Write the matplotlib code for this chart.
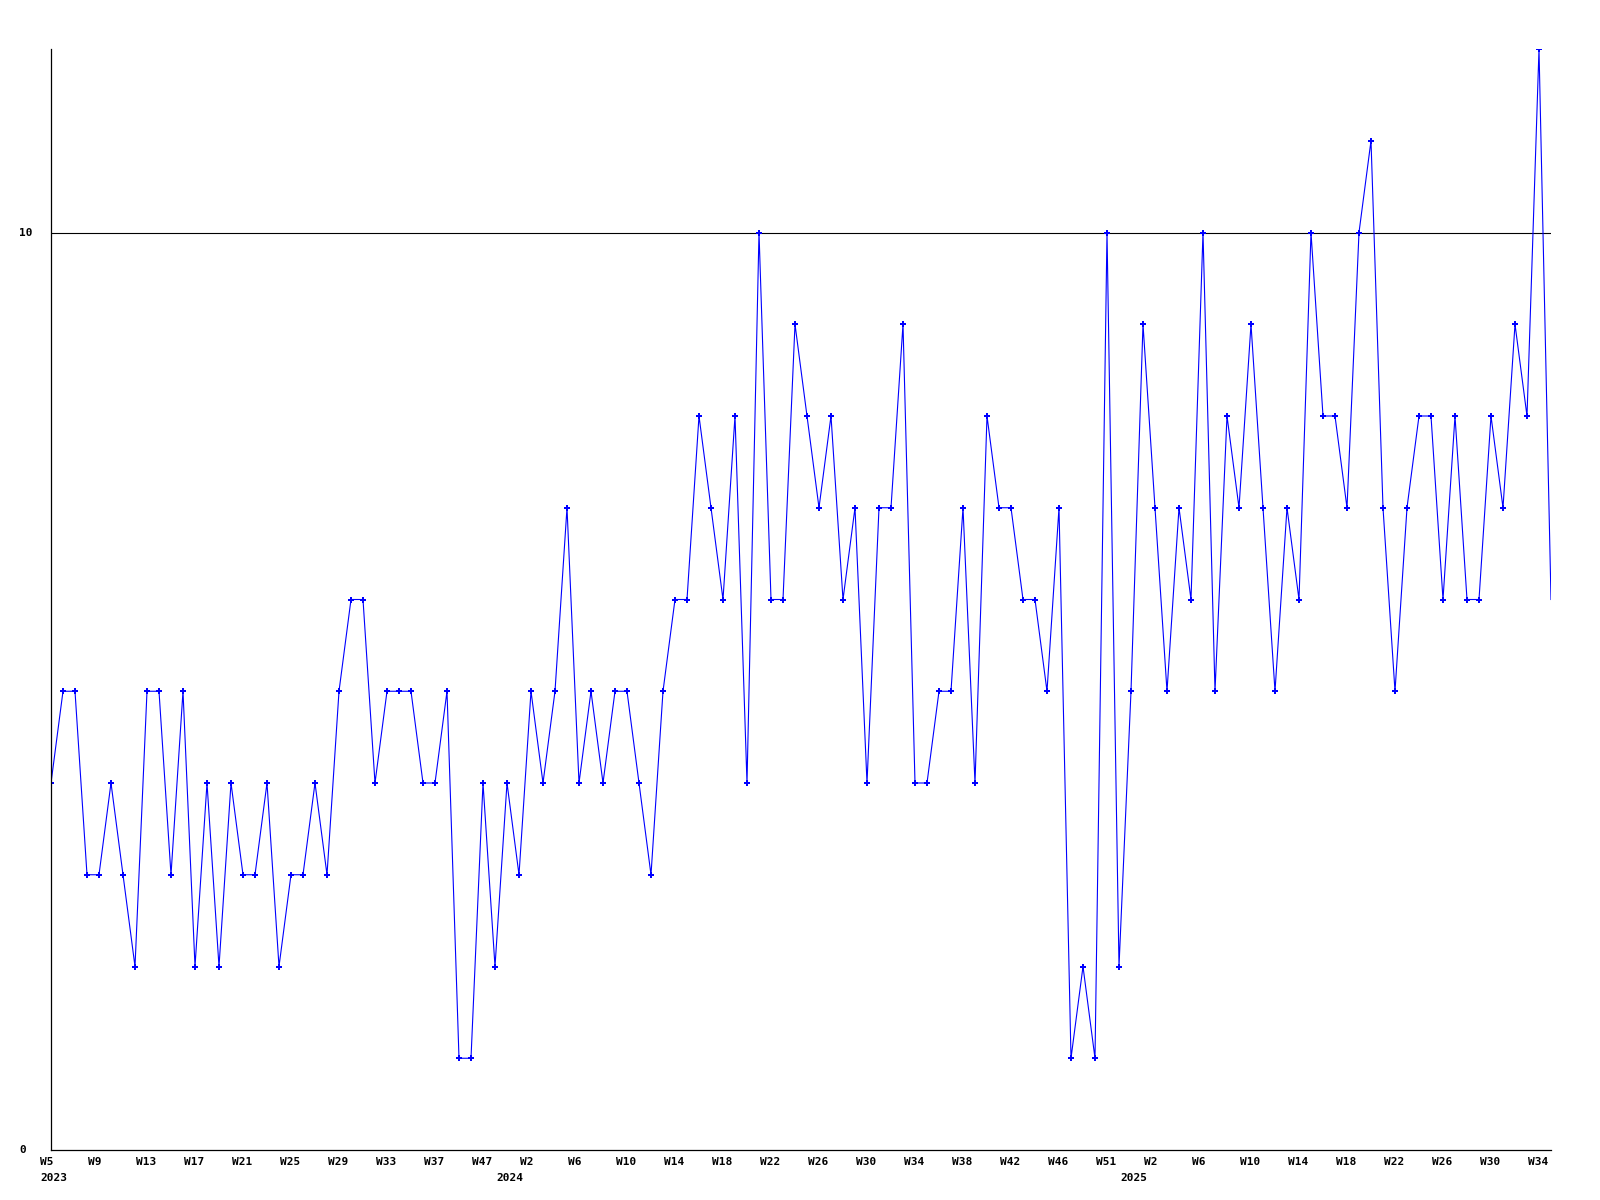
import numpy as np
import matplotlib
matplotlib.use('Agg')
import matplotlib.pyplot as plt

# weekly values, 2023 W5 .. 2025 W35
wartosci = [4, 5, 5, 3, 3, 4, 3, 2, 5, 5, 3, 5, 2, 4, 2, 4, 3, 3, 4, 2,
            3, 3, 4, 3, 5, 6, 6, 4, 5, 5, 5, 4, 4, 5, 1, 1, 4, 2, 4, 3,
            5, 4, 5, 7, 4, 5, 4, 5, 5, 4, 3, 5, 6, 6, 8, 7, 6, 8, 4, 10,
            6, 6, 9, 8, 7, 8, 6, 7, 4, 7, 7, 9, 4, 4, 5, 5, 7, 4, 8, 7,
            7, 6, 6, 5, 7, 1, 2, 1, 10, 2, 5, 9, 7, 5, 7, 6, 10, 5, 8, 7,
            9, 7, 5, 7, 6, 10, 8, 8, 7, 10, 11, 7, 5, 7, 8, 8, 6, 8, 6, 6,
            8, 7, 9, 8, 12, 6]

tygodnie = ['W5', 'W9', 'W13', 'W17', 'W21', 'W25', 'W29', 'W33', 'W37', 'W47',
            'W2', 'W6', 'W10', 'W14', 'W18', 'W22', 'W26', 'W30', 'W34', 'W38',
            'W42', 'W46', 'W51', 'W2', 'W6', 'W10', 'W14', 'W18', 'W22', 'W26',
            'W30', 'W34']
tygodnie_idx = list(range(0, 125, 4))

lata = ['2023', '2024', '2025']
lata_idx = [0, 38, 90]

y_ticks = [0, 10]

font = {'family': 'DejaVu Sans Mono', 'weight': 'bold', 'size': 8}

fig = plt.figure(figsize=(16, 12), dpi=100)
ax = fig.add_axes([51 / 1600, 1 - 1150 / 1200, 1500 / 1600, (1150 - 49) / 1200])

x = np.arange(len(wartosci))
ax.axhline(10, color='black', linewidth=0.8, zorder=1)
ax.plot(x, wartosci, color='#0000ff', linewidth=0.8, zorder=2,
        marker='P', markersize=4.2, markeredgewidth=0,
        markevery=list(range(len(wartosci) - 1)))

ax.set_xlim(0, len(wartosci) - 1)
ax.set_ylim(0, 12)
ax.set_xticks([])
ax.set_yticks([])
for s in ['top', 'right']:
    ax.spines[s].set_visible(False)
for s in ['left', 'bottom']:
    ax.spines[s].set_color('black')
    ax.spines[s].set_linewidth(0.9)

px = 0.72  # points per pixel
for i, t in zip(tygodnie_idx, tygodnie):
    ax.annotate(t, xy=(i, 0), xycoords=('data', 'axes fraction'),
                xytext=(-11 * px, -12 * px), textcoords='offset points',
                ha='left', va='center', annotation_clip=False, **font)
for i, t in zip(lata_idx, lata):
    ax.annotate(t, xy=(i, 0), xycoords=('data', 'axes fraction'),
                xytext=(-11 * px, -28 * px), textcoords='offset points',
                ha='left', va='center', annotation_clip=False, **font)
for v in y_ticks:
    ax.annotate(str(v), xy=(0, v), xycoords=('axes fraction', 'data'),
                xytext=(-32 * px, 0), textcoords='offset points',
                ha='left', va='center', annotation_clip=False, **font)

fig.savefig('out.png', dpi=100, facecolor='white')
